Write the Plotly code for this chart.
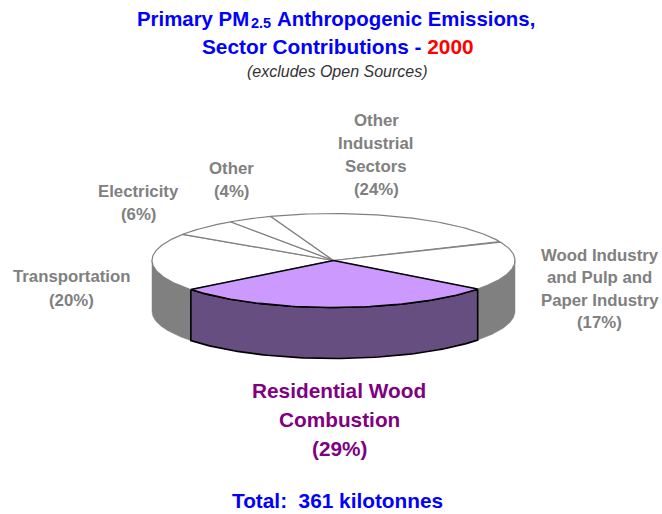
import numpy as np
import plotly.graph_objects as go

# Data (clockwise from the front of the pie)
sectors = ["Residential Wood Combustion", "Transportation", "Electricity", "Other",
           "Other Industrial Sectors", "Wood Industry and Pulp and Paper Industry"]
shares = [29, 20, 6, 4, 24, 17]
top_colors = ["#CC99FF", "#FFFFFF", "#FFFFFF", "#FFFFFF", "#FFFFFF", "#FFFFFF"]
side_colors = ["#664E80", "#808080", "#808080", "#808080", "#808080", "#808080"]
edge_colors = ["#000000", "#808080", "#808080", "#808080", "#808080", "#808080"]

# Label lines: text, centre x, centre y
label_text = ["Other", "Industrial", "Sectors", "(24%)", "Other", "(4%)", "Electricity", "(6%)",
              "Transportation", "(20%)", "Wood Industry", "and Pulp and", "Paper Industry", "(17%)"]
label_x = [376, 376, 376, 376, 231, 231, 138, 138, 71, 71, 599.5, 599.5, 599.5, 599.5]
label_y = [120, 143, 166, 189, 168, 191, 191, 214, 276, 300, 255, 277, 300, 322]

main_text = ["Residential Wood", "Combustion", "(29%)"]
main_x = [339, 339, 339]
main_y = [390, 419, 448]

# Pie projection on the picture
CX, CY, RX, RY, DEPTH = 333.5, 260.5, 181.5, 47.0, 51.0
ROTATION = -0.4


def arc(t0, t1, dy=0.0):
    t = np.radians(np.linspace(t0, t1, 80))
    return CX - RX * np.sin(t), CY + dy + RY * np.cos(t)


fig = go.Figure()
common = dict(mode="lines", fill="toself", hoverinfo="skip", showlegend=False)

sweeps = np.array(shares) * 3.6
starts = ROTATION - sweeps[0] / 2 + np.concatenate(([0], np.cumsum(sweeps)[:-1]))

# Side walls: the visible front half only
for pass_no in (0, 1):
    for s, w, col in zip(starts, sweeps, side_colors):
        segments = [(s, s + w), (s - 360, s + w - 360)]
        for a, b in segments:
            a, b = max(a, -90), min(b, 90)
            if b <= a:
                continue
            x1, y1 = arc(a, b)
            x2, y2 = arc(b, a, DEPTH)
            dark = col != "#808080"
            if dark != bool(pass_no):
                continue
            fig.add_trace(go.Scatter(
                x=np.r_[x1, x2, x1[0]], y=np.r_[y1, y2, y1[0]], fillcolor=col,
                line=dict(color="#000000" if dark else col, width=1.6 if dark else 0.5), **common))

# Top faces, the highlighted one last
for i in list(range(1, len(shares))) + [0]:
    x, y = arc(starts[i], starts[i] + sweeps[i])
    fig.add_trace(go.Scatter(
        x=np.r_[CX, x, CX], y=np.r_[CY, y, CY], fillcolor=top_colors[i],
        line=dict(color=edge_colors[i], width=1.6 if i == 0 else 1.2), **common))

ARIAL = "Liberation Sans, Arial, sans-serif"


def note(x, y, text, size, color, anchor="center"):
    fig.add_annotation(x=x, y=y, xref="x", yref="y", text=text, showarrow=False,
                       xanchor=anchor, yanchor="middle", borderpad=0, borderwidth=0,
                       font=dict(family=ARIAL, size=size, color=color))


for t, x, y in zip(label_text, label_x, label_y):
    note(x, y, f"<b>{t}</b>", 16.8, "#808080")
for t, x, y in zip(main_text, main_x, main_y):
    note(x, y, f"<b>{t}</b>", 20.8, "#800080")

note(249, 18.5, "<b>Primary PM</b>", 20.4, "#0000FF", anchor="right")
note(261, 23, "<b>2.5</b>", 14.5, "#0000FF")
note(277, 18.5, "<b>Anthropogenic Emissions,</b>", 20.4, "#0000FF", anchor="left")
note(338, 46.5, '<b>Sector Contributions - <span style="color:#FF0000">2000</span></b>', 20.8, "#0000FF")
note(337, 71, "<i>(excludes Open Sources)</i>", 16, "#333333")
note(337, 500.5, "<b>Total:  361 kilotonnes</b>", 20.8, "#0000FF")

fig.update_layout(
    width=662, height=514, margin=dict(l=0, r=0, t=0, b=0),
    paper_bgcolor="#FFFFFF", plot_bgcolor="#FFFFFF",
    xaxis=dict(range=[0, 662], visible=False, fixedrange=True),
    yaxis=dict(range=[514, 0], visible=False, fixedrange=True),
)

fig.write_html("out.html", config={"displayModeBar": False},
               post_script="document.body.style.margin='0';document.body.style.overflow='hidden';")
